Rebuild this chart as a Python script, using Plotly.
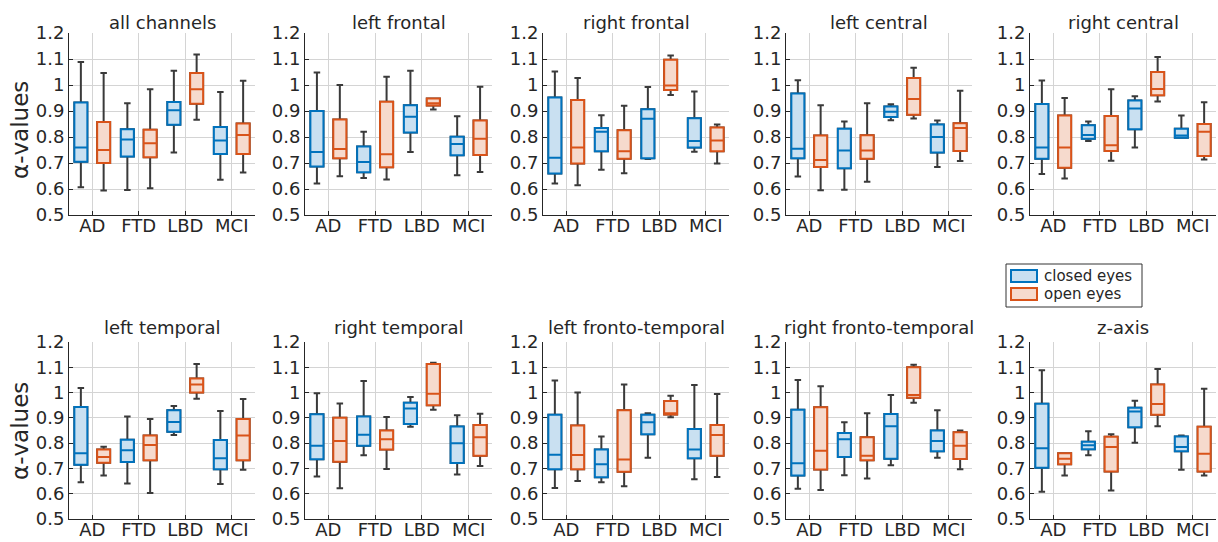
import plotly.graph_objects as go

# Brain regions (one panel each) and diagnostic groups
regions = ["all channels", "left frontal", "right frontal", "left central", "right central",
           "left temporal", "right temporal", "left fronto-temporal", "right fronto-temporal", "z-axis"]
groups = ["AD", "FTD", "LBD", "MCI"]
conditions_names = ["closed eyes", "open eyes"]

y_ticks = [0.5, 0.6, 0.7, 0.8, 0.9, 1.0, 1.1, 1.2]
y_tick_text = ["0.5", "0.6", "0.7", "0.8", "0.9", "1", "1.1", "1.2"]

# Box statistics, closed eyes: one row per region, one value per group (AD, FTD, LBD, MCI)
closed_low = [
    [0.607, 0.596, 0.740, 0.636],
    [0.621, 0.642, 0.742, 0.653],
    [0.621, 0.674, 0.715, 0.743],
    [0.648, 0.597, 0.864, 0.685],
    [0.658, 0.785, 0.760, 0.797],
    [0.645, 0.640, 0.832, 0.638],
    [0.668, 0.752, 0.865, 0.676],
    [0.623, 0.645, 0.742, 0.657],
    [0.620, 0.673, 0.713, 0.742],
    [0.608, 0.752, 0.802, 0.695],
]
closed_q1 = [
    [0.705, 0.725, 0.847, 0.735],
    [0.687, 0.664, 0.817, 0.730],
    [0.660, 0.745, 0.718, 0.760],
    [0.718, 0.680, 0.877, 0.740],
    [0.716, 0.793, 0.830, 0.797],
    [0.715, 0.725, 0.845, 0.697],
    [0.736, 0.790, 0.876, 0.721],
    [0.697, 0.665, 0.835, 0.740],
    [0.672, 0.745, 0.738, 0.768],
    [0.703, 0.776, 0.863, 0.768],
]
closed_median = [
    [0.760, 0.790, 0.903, 0.787],
    [0.742, 0.704, 0.878, 0.773],
    [0.720, 0.820, 0.870, 0.785],
    [0.755, 0.748, 0.897, 0.800],
    [0.760, 0.808, 0.910, 0.806],
    [0.760, 0.772, 0.884, 0.740],
    [0.790, 0.833, 0.937, 0.800],
    [0.754, 0.717, 0.883, 0.775],
    [0.720, 0.815, 0.867, 0.808],
    [0.780, 0.792, 0.925, 0.785],
]
closed_q3 = [
    [0.933, 0.830, 0.935, 0.838],
    [0.900, 0.763, 0.922, 0.801],
    [0.952, 0.835, 0.907, 0.872],
    [0.967, 0.832, 0.917, 0.848],
    [0.927, 0.845, 0.940, 0.832],
    [0.943, 0.813, 0.930, 0.812],
    [0.914, 0.905, 0.960, 0.866],
    [0.912, 0.775, 0.912, 0.856],
    [0.932, 0.840, 0.915, 0.850],
    [0.956, 0.806, 0.940, 0.826],
]
closed_high = [
    [1.088, 0.930, 1.055, 0.973],
    [1.048, 0.820, 1.055, 0.880],
    [1.052, 0.884, 0.992, 0.975],
    [1.018, 0.860, 0.926, 0.863],
    [1.017, 0.860, 0.957, 0.883],
    [1.018, 0.905, 0.947, 0.927],
    [0.997, 1.046, 0.982, 0.910],
    [1.048, 0.826, 0.918, 1.030],
    [1.050, 0.883, 0.990, 0.930],
    [1.088, 0.847, 0.968, 0.830],
]

# Box statistics, open eyes
open_low = [
    [0.594, 0.603, 0.866, 0.663],
    [0.649, 0.637, 0.906, 0.665],
    [0.614, 0.661, 0.962, 0.698],
    [0.595, 0.628, 0.871, 0.708],
    [0.640, 0.709, 0.937, 0.713],
    [0.672, 0.603, 0.976, 0.695],
    [0.622, 0.698, 0.932, 0.710],
    [0.650, 0.630, 0.902, 0.666],
    [0.615, 0.660, 0.960, 0.697],
    [0.672, 0.613, 0.867, 0.672],
]
open_q1 = [
    [0.700, 0.722, 0.928, 0.735],
    [0.718, 0.684, 0.921, 0.731],
    [0.698, 0.716, 0.981, 0.745],
    [0.685, 0.716, 0.886, 0.746],
    [0.682, 0.746, 0.961, 0.727],
    [0.722, 0.732, 1.000, 0.732],
    [0.726, 0.775, 0.950, 0.750],
    [0.697, 0.687, 0.913, 0.750],
    [0.696, 0.732, 0.980, 0.737],
    [0.717, 0.688, 0.912, 0.688],
]
open_median = [
    [0.750, 0.776, 0.984, 0.808],
    [0.754, 0.734, 0.930, 0.793],
    [0.760, 0.745, 0.998, 0.787],
    [0.712, 0.748, 0.946, 0.835],
    [0.760, 0.768, 0.985, 0.820],
    [0.745, 0.793, 1.032, 0.830],
    [0.808, 0.815, 0.995, 0.823],
    [0.753, 0.735, 0.918, 0.832],
    [0.770, 0.750, 0.990, 0.790],
    [0.738, 0.785, 0.955, 0.758],
]
open_q3 = [
    [0.858, 0.828, 1.046, 0.852],
    [0.867, 0.936, 0.948, 0.863],
    [0.942, 0.826, 1.097, 0.837],
    [0.806, 0.807, 1.027, 0.853],
    [0.883, 0.881, 1.050, 0.850],
    [0.775, 0.830, 1.056, 0.895],
    [0.900, 0.850, 1.113, 0.872],
    [0.870, 0.930, 0.967, 0.872],
    [0.942, 0.823, 1.100, 0.843],
    [0.760, 0.825, 1.032, 0.865],
]
open_high = [
    [1.046, 0.984, 1.117, 1.016],
    [1.000, 1.032, 0.948, 0.993],
    [1.027, 0.920, 1.113, 0.848],
    [0.922, 0.930, 1.066, 0.978],
    [0.950, 0.984, 1.108, 0.934],
    [0.786, 0.895, 1.113, 0.975],
    [0.957, 0.903, 1.118, 0.916],
    [1.000, 1.032, 0.987, 0.994],
    [1.025, 0.918, 1.110, 0.850],
    [0.760, 0.835, 1.093, 1.015],
]

W, H = 1218, 542
col_px = [(69, 255), (305, 492), (543, 729), (786, 972), (1030, 1216)]
row_px = [(33, 215), (342, 519)]
title_px = [23, 327]
ylabel_px = [130, 431]

BLUE, BLUE_FILL = "#0072BD", "#C9E0F1"
ORANGE, ORANGE_FILL = "#D95319", "#F6DACD"
WHISKER = "#3A3A3A"
AXIS = "#262626"
GRID = "#D4D4D4"
FONT = "DejaVu Sans"

conditions = [
    (conditions_names[0], BLUE, BLUE_FILL, closed_low, closed_q1, closed_median, closed_q3, closed_high),
    (conditions_names[1], ORANGE, ORANGE_FILL, open_low, open_q1, open_median, open_q3, open_high),
]

fig = go.Figure()
layout = dict(
    width=W, height=H, margin=dict(l=0, r=0, t=0, b=0, pad=0), autosize=False,
    paper_bgcolor="white", plot_bgcolor="white",
    font=dict(family=FONT, color=AXIS, size=16),
    boxmode="group", boxgap=0.02, boxgroupgap=0.43,
    showlegend=False,
)
annotations = []
shapes = []

for i, region in enumerate(regions):
    r, c = divmod(i, 5)
    x0, x1 = col_px[c]
    y0, y1 = row_px[r]
    xa = "x" if i == 0 else f"x{i + 1}"
    ya = "y" if i == 0 else f"y{i + 1}"
    xkey = "xaxis" if i == 0 else f"xaxis{i + 1}"
    ykey = "yaxis" if i == 0 else f"yaxis{i + 1}"

    layout[xkey] = dict(
        domain=[x0 / W, x1 / W], anchor=ya, type="category", automargin=False,
        categoryorder="array", categoryarray=groups, range=[-0.5, 3.5],
        showgrid=True, gridcolor=GRID, gridwidth=1,
        showline=True, linecolor=AXIS, linewidth=1,
        ticks="inside", ticklen=4, tickcolor=AXIS, ticklabelstandoff=-6,
        tickfont=dict(size=18, family=FONT, color=AXIS), fixedrange=True,
    )
    layout[ykey] = dict(
        domain=[1 - y1 / H, 1 - y0 / H], anchor=xa, range=[0.5, 1.2], automargin=False,
        tickvals=y_ticks, ticktext=y_tick_text,
        showgrid=True, gridcolor=GRID, gridwidth=1, zeroline=False,
        showline=True, linecolor=AXIS, linewidth=1,
        ticks="inside", ticklen=4, tickcolor=AXIS,
        tickfont=dict(size=18, family=FONT, color=AXIS), fixedrange=True,
    )

    # Whiskers (dark) drawn first, coloured boxes on top sharing the same slot
    for name, line_c, fill_c, lo, q1, med, q3, hi in conditions:
        fig.add_trace(go.Box(
            x=groups, lowerfence=lo[i], q1=q1[i], median=med[i], q3=q3[i], upperfence=hi[i],
            xaxis=xa, yaxis=ya, offsetgroup=name, name=name,
            line=dict(color=WHISKER, width=2), fillcolor="rgba(0,0,0,0)",
            whiskerwidth=0.5, hoverinfo="skip",
        ))
    for name, line_c, fill_c, lo, q1, med, q3, hi in conditions:
        fig.add_trace(go.Box(
            x=groups, lowerfence=q1[i], q1=q1[i], median=med[i], q3=q3[i], upperfence=q3[i],
            xaxis=xa, yaxis=ya, offsetgroup=name, name=name,
            line=dict(color=line_c, width=2), fillcolor=fill_c, whiskerwidth=0,
        ))

    annotations.append(dict(
        text=region, xref="paper", yref="paper", x=(x0 + x1) / 2 / W, y=1 - title_px[r] / H,
        xanchor="center", yanchor="middle", showarrow=False,
        font=dict(size=18, family=FONT, color=AXIS),
    ))
    if c == 0:
        annotations.append(dict(
            text="α-values", xref="paper", yref="paper", x=20 / W,
            y=1 - ylabel_px[r] / H, xanchor="center", yanchor="middle",
            textangle=-90, showarrow=False,
            font=dict(size=23, family=FONT, color=AXIS),
        ))

# Legend box with a coloured patch per condition
lg_x0, lg_x1, lg_y0, lg_y1 = 1006, 1142, 264, 307
shapes.append(dict(type="rect", xref="paper", yref="paper",
                   x0=lg_x0 / W, x1=lg_x1 / W, y0=1 - lg_y1 / H, y1=1 - lg_y0 / H,
                   line=dict(color="#333333", width=1), fillcolor="white", layer="above"))
for k, (name, line_c, fill_c, *_rest) in enumerate(conditions):
    cy = 276 + 18 * k
    shapes.append(dict(type="rect", xref="paper", yref="paper",
                       x0=1011 / W, x1=1037 / W, y0=1 - (cy + 6) / H, y1=1 - (cy - 6) / H,
                       line=dict(color=line_c, width=2), fillcolor=fill_c, layer="above"))
    annotations.append(dict(
        text=name, xref="paper", yref="paper", x=1043 / W, y=1 - cy / H,
        xanchor="left", yanchor="middle", showarrow=False, borderpad=0,
        font=dict(size=15, family=FONT, color=AXIS),
    ))

layout["annotations"] = annotations
layout["shapes"] = shapes
fig.update_layout(**layout)
fig.write_html("out.html")
